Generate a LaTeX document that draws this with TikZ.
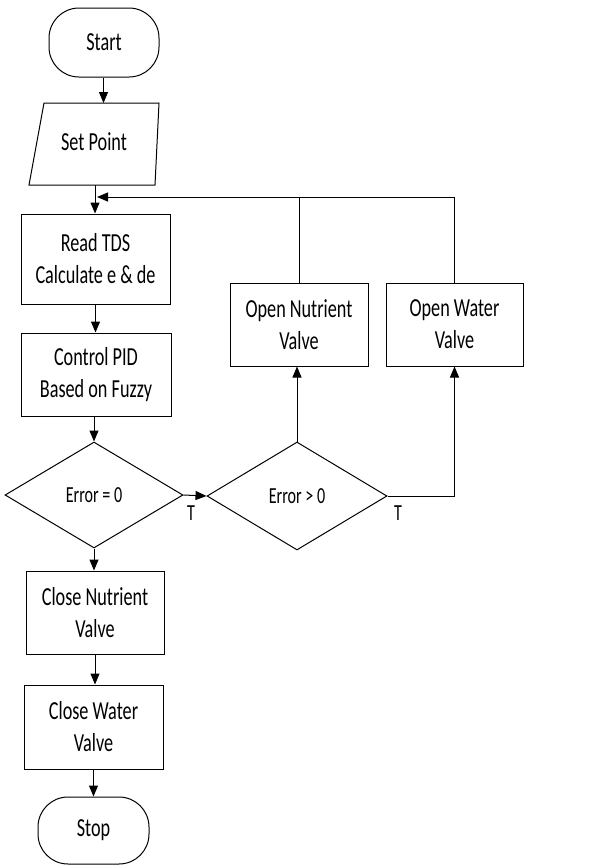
\documentclass[tikz,border=0pt]{standalone}
\usepackage{fontspec}
\setmainfont{Carlito}[FakeStretch=0.7]
\usetikzlibrary{arrows.meta,shapes.geometric}
\begin{document}
\begin{tikzpicture}[x=1pt,y=-1pt,
  every node/.style={font=\fontsize{26}{32}\selectfont, inner sep=0pt, align=center},
  box/.style={draw, line width=1pt, rectangle},
  term/.style={draw, line width=1pt, rectangle, rounded corners=30pt},
  dec/.style={draw, line width=1pt, diamond, aspect=1.7, font=\fontsize{23}{28}\selectfont},
  lbl/.style={font=\fontsize{23}{28}\selectfont},
  link/.style={line width=1pt},
  arr/.style={line width=1pt, -{Triangle[length=11pt,width=9pt]}}]
\useasboundingbox (0,0) rectangle (611,865);
\fill[white] (0,0) rectangle (611,865);

\node[term, minimum width=110pt, minimum height=69pt] (start) at (104,42.5) {Start};

\coordinate (sptl) at (44,103);
\coordinate (sptr) at (159,103);
\coordinate (spbr) at (155,185);
\coordinate (spbl) at (29,185);
\draw[line width=1pt] (sptl) -- (sptr) -- (spbr) -- (spbl) -- cycle;
\node (setpt) at (94,142) {Set Point};
\coordinate (sptop) at (103.5,103);
\coordinate (spbot) at (95,185);

\node[box, minimum width=149pt, minimum height=90pt] (read) at (95.5,259) {Read TDS\\Calculate e \& de};
\node[box, minimum width=150pt, minimum height=83pt] (pid) at (96,374.5) {Control PID\\Based on Fuzzy};
\node[dec, minimum width=178pt, minimum height=106pt] (d1) at (94,495) {Error = 0};
\node[dec, minimum width=180pt, minimum height=108pt] (d2) at (297,496) {Error > 0};
\node[box, minimum width=138pt, minimum height=83pt] (on) at (299,324.5) {Open Nutrient\\Valve};
\node[box, minimum width=137pt, minimum height=83pt] (ow) at (454.5,324.5) {Open Water\\Valve};
\node[box, minimum width=138pt, minimum height=83pt] (cn) at (95,612.5) {Close Nutrient\\Valve};
\node[box, minimum width=139pt, minimum height=84pt] (cw) at (93.5,727) {Close Water\\Valve};
\node[term, minimum width=111pt, minimum height=67pt] (stop) at (93.5,830.5) {Stop};

\node[lbl] (t1) at (191,513) {T};
\node[lbl] (t2) at (398,513) {T};

\coordinate (loopj) at (97,197);

\draw[arr] (start.south -| sptop) -- (sptop);
\draw[arr] (spbot) -- (spbot |- read.north);
\draw[arr] (read.south) -- (read.south |- pid.north);
\draw[arr] (pid.south -| d1.north) -- (d1.north);
\draw[arr] (d1.south) -- (d1.south |- cn.north);
\draw[arr] (cn.south) -- (cn.south |- cw.north);
\draw[arr] (cw.south) -- (cw.south |- stop.north);
\draw[arr] (d1.east) -- (d2.west);
\draw[arr] (d2.north) -- (d2.north |- on.south);
\draw[arr] (d2.east) -| (ow.south);
\draw[link] (on.north) -- (on.north |- loopj);
\draw[arr] (ow.north) |- (loopj);
\end{tikzpicture}
\end{document}
